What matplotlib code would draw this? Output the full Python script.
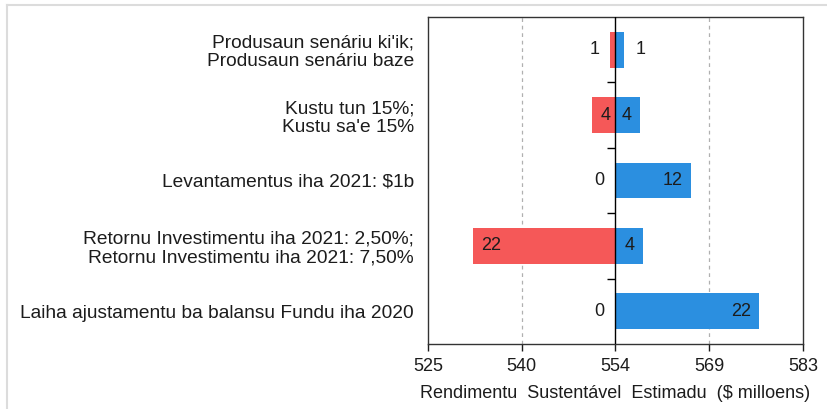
import matplotlib

matplotlib.use("Agg")
import matplotlib.pyplot as plt
from matplotlib.lines import Line2D

plt.rcParams["font.family"] = ["Liberation Sans", "DejaVu Sans"]

# tornado chart: sensitivity of estimated sustainable income around the base
BASE = 554.3
labels = [
    "Produsaun senáriu ki'ik;\nProdusaun senáriu baze",
    "Kustu tun 15%;\nKustu sa'e 15%",
    "Levantamentus iha 2021: $1b",
    "Retornu Investimentu iha 2021: 2,50%;\nRetornu Investimentu iha 2021: 7,50%",
    "Laiha ajustamentu ba balansu Fundu iha 2020",
]
low = [0.8, 3.6, 0.0, 22.2, 0.0]     # drop below base (red)
high = [1.4, 3.8, 11.7, 4.3, 22.3]   # rise above base (blue)
tick_vals = [525.1, 539.7, 554.3, 568.9, 583.5]
tick_text = ["525", "540", "554", "569", "583"]

RED = "#f55858"
BLUE = "#2b8fe0"
TXT = "#1c1c1c"
FS = 13

fig = plt.figure(figsize=(8.27, 4.09), dpi=100)
ax = fig.add_axes([428 / 827, 1 - 344 / 409, 375 / 827, 327 / 409])

y = range(len(labels))
ax.barh(y, [-v for v in low], left=BASE, height=0.55, color=RED, zorder=2)
ax.barh(y, high, left=BASE, height=0.55, color=BLUE, zorder=2)

for i in y:
    for v, sign in ((low[i], -1), (high[i], 1)):
        txt = f"{v:.0f}"
        end = BASE + sign * v
        if v >= 2:
            off, ha = -sign * 8 * 0.72, "left" if sign < 0 else "right"
        else:
            off, ha = sign * 11 * 0.72, "right" if sign < 0 else "left"
        ax.annotate(txt, (end, i), xytext=(off, 0), textcoords="offset points",
                    ha=ha, va="center", fontsize=FS, color=TXT, zorder=3)

ax.axvline(BASE, color="black", lw=1.0, zorder=4)
for g in (tick_vals[1], tick_vals[3]):
    ax.axvline(g, color="#b0b0b0", lw=0.9, ls=(0, (3, 3)), zorder=1)
# little row-separator ticks on the centre line
seps = [k + 0.5 for k in range(len(labels) - 1)]
ax.plot([BASE] * len(seps), seps, ls="none", marker=0, ms=6, mew=1.0,
        color="black", zorder=4)

ax.set_xlim(tick_vals[0], tick_vals[-1])
ax.set_ylim(len(labels) - 0.5, -0.5)
ax.set_xticks(tick_vals, tick_text)
ax.set_yticks(list(y), labels)
ax.tick_params(axis="y", length=0, pad=10, labelsize=13.8, colors=TXT)
ax.tick_params(axis="x", length=5, width=1, pad=5, labelsize=FS, colors=TXT)
for s in ax.spines.values():
    s.set_color("#333333")
    s.set_linewidth(1.0)
for lab in ax.get_yticklabels():
    lab.set_multialignment("right")
    lab.set_linespacing(1.12)

ax.set_xlabel("Rendimentu  Sustentável  Estimadu  ($ milloens)", fontsize=FS,
              color=TXT, labelpad=7)

# faint screenshot frame along top and left
fig.add_artist(Line2D([7 / 827, 1], [1 - 5 / 409] * 2, color="#dcdcdc", lw=1.5))
fig.add_artist(Line2D([7 / 827] * 2, [0, 1 - 5 / 409], color="#dcdcdc", lw=1.5))

fig.savefig("out.png", dpi=100)
